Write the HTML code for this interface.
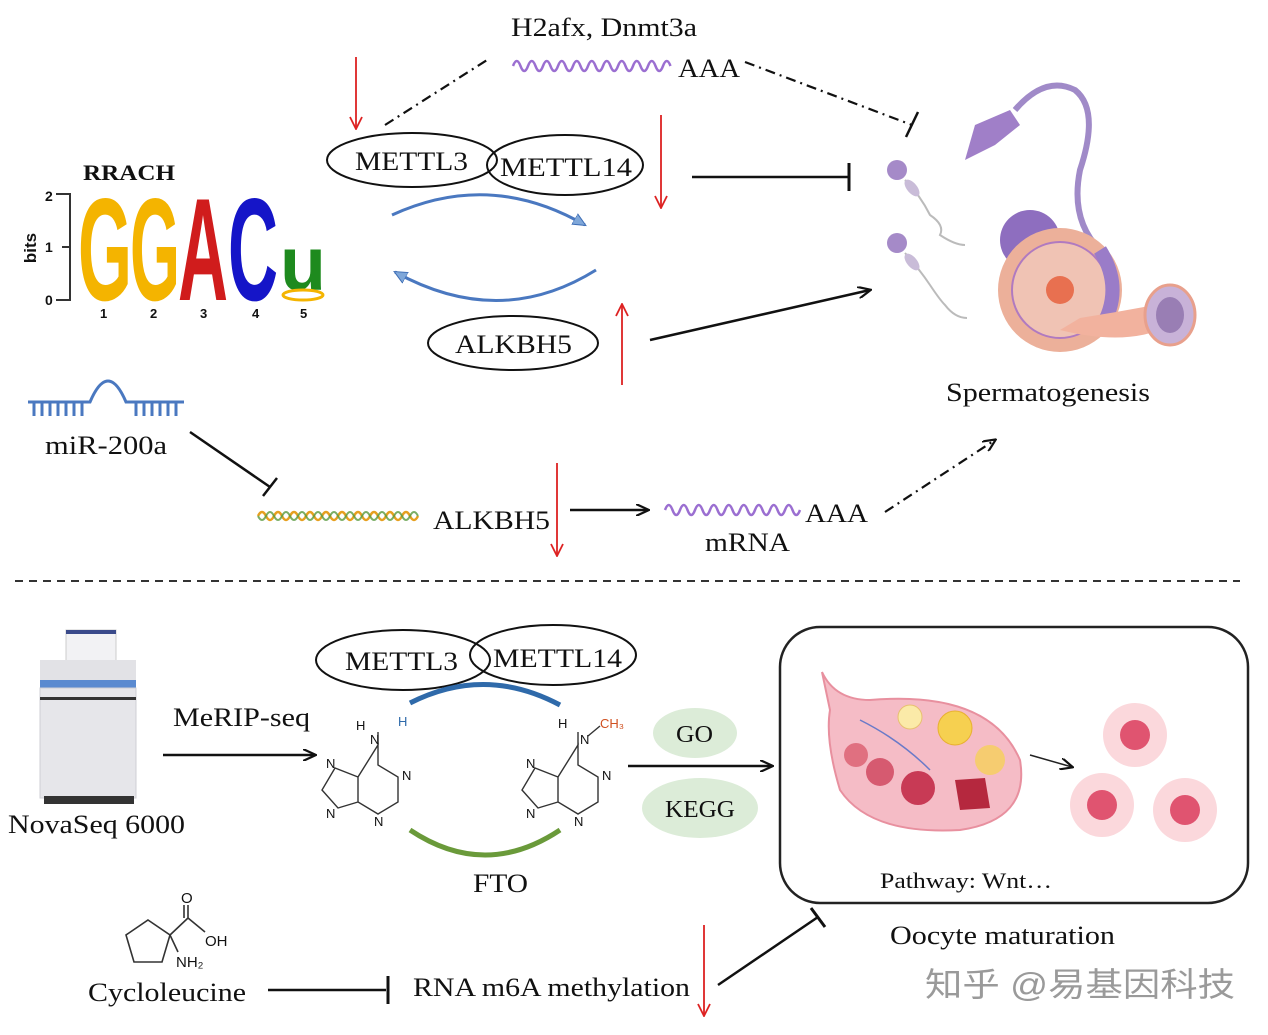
<!DOCTYPE html>
<html><head><meta charset="utf-8"><style>
html,body{margin:0;padding:0;background:#fff;}
svg{display:block;}
text{font-family:"Liberation Serif",serif;fill:#111;}
.s{font-family:"Liberation Sans",sans-serif;}
</style></head><body>
<svg width="1268" height="1035" viewBox="0 0 1268 1035" xmlns="http://www.w3.org/2000/svg">
<defs>
<marker id="ab" markerWidth="14" markerHeight="12" refX="12" refY="6" orient="auto" markerUnits="userSpaceOnUse"><path d="M0,0 L13,6 L0,12" fill="none" stroke="#111" stroke-width="2.2"/></marker>
<marker id="ar" markerWidth="14" markerHeight="14" refX="12" refY="7" orient="auto" markerUnits="userSpaceOnUse"><path d="M1,1 L13,7 L1,13" fill="none" stroke="#d22" stroke-width="1.8"/></marker>
<marker id="abl" markerWidth="16" markerHeight="14" refX="12" refY="7" orient="auto" markerUnits="userSpaceOnUse"><path d="M0,1 L13,7 L0,13 Z" fill="#7fa7d9" stroke="#3d6db5" stroke-width="1"/></marker>
</defs>

<!-- top -->
<text x="511" y="36" font-size="26" textLength="186" lengthAdjust="spacingAndGlyphs">H2afx, Dnmt3a</text>
<path d="M513 66 q3.75 -10 7.5 0 t7.5 0 t7.5 0 t7.5 0 t7.5 0 t7.5 0 t7.5 0 t7.5 0 t7.5 0 t7.5 0 t7.5 0 t7.5 0 t7.5 0 t7.5 0 t7.5 0 t7.5 0 t7.5 0 t7.5 0 t7.5 0 t7.5 0 t7.5 0" fill="none" stroke="#9b6fd1" stroke-width="2.5"/>
<text x="678" y="77" font-size="26" textLength="62" lengthAdjust="spacingAndGlyphs">AAA</text>
<line x1="385" y1="125" x2="487" y2="60" stroke="#111" stroke-width="2.2" stroke-dasharray="10,5,2,5"/>
<line x1="745" y1="62" x2="912" y2="125" stroke="#111" stroke-width="2.2" stroke-dasharray="10,5,2,5"/>
<line x1="906" y1="137" x2="918" y2="112" stroke="#111" stroke-width="2.5"/>
<line x1="356" y1="57" x2="356" y2="128" stroke="#d22" stroke-width="1.8" marker-end="url(#ar)"/>
<ellipse cx="412" cy="160" rx="85" ry="27" fill="none" stroke="#111" stroke-width="2"/>
<ellipse cx="565" cy="165" rx="78" ry="30" fill="none" stroke="#111" stroke-width="2"/>
<text x="355" y="170" font-size="26" textLength="113" lengthAdjust="spacingAndGlyphs">METTL3</text>
<text x="500" y="176" font-size="26" textLength="132" lengthAdjust="spacingAndGlyphs">METTL14</text>
<line x1="661" y1="115" x2="661" y2="207" stroke="#d22" stroke-width="1.8" marker-end="url(#ar)"/>
<line x1="692" y1="177" x2="848" y2="177" stroke="#111" stroke-width="2.5"/>
<line x1="849" y1="163" x2="849" y2="191" stroke="#111" stroke-width="3"/>
<path d="M392 215 Q490 170 585 225" fill="none" stroke="#4a78c0" stroke-width="3" marker-end="url(#abl)"/>
<path d="M596 270 Q500 330 395 272" fill="none" stroke="#4a78c0" stroke-width="3" marker-end="url(#abl)"/>
<ellipse cx="513" cy="343" rx="85" ry="27" fill="none" stroke="#111" stroke-width="2"/>
<text x="455" y="353" font-size="26" textLength="117" lengthAdjust="spacingAndGlyphs">ALKBH5</text>
<line x1="622" y1="385" x2="622" y2="305" stroke="#d22" stroke-width="1.8" marker-end="url(#ar)"/>
<line x1="650" y1="340" x2="870" y2="290" stroke="#111" stroke-width="2.5" marker-end="url(#ab)"/>

<!-- logo -->
<text x="83" y="180" font-size="22" font-weight="bold" textLength="92" lengthAdjust="spacingAndGlyphs">RRACH</text>
<text class="s" x="36" y="248" font-size="17" font-weight="bold" transform="rotate(-90 36 248)" text-anchor="middle">bits</text>
<text class="s" x="45" y="201" font-size="14" font-weight="bold">2</text>
<text class="s" x="45" y="252" font-size="14" font-weight="bold">1</text>
<text class="s" x="45" y="305" font-size="14" font-weight="bold">0</text>
<path d="M56 194 H70 V300 H56 M62 247 H70" fill="none" stroke="#333" stroke-width="2"/>
<text class="s" x="78" y="300" font-size="146" font-weight="bold" textLength="54" lengthAdjust="spacingAndGlyphs" style="fill:#f4b400">G</text>
<text class="s" x="130" y="300" font-size="146" font-weight="bold" textLength="50" lengthAdjust="spacingAndGlyphs" style="fill:#f4b400">G</text>
<text class="s" x="178" y="300" font-size="146" font-weight="bold" textLength="50" lengthAdjust="spacingAndGlyphs" style="fill:#d01c1c">A</text>
<text class="s" x="228" y="300" font-size="146" font-weight="bold" textLength="50" lengthAdjust="spacingAndGlyphs" style="fill:#1515c8">C</text>
<text class="s" x="280" y="290" font-size="76" font-weight="bold" textLength="46" lengthAdjust="spacingAndGlyphs" style="fill:#1e8a1e">u</text>
<ellipse cx="303" cy="295" rx="20" ry="5" fill="none" stroke="#f4b400" stroke-width="3"/>
<text class="s" x="100" y="318" font-size="13" font-weight="bold">1</text>
<text class="s" x="150" y="318" font-size="13" font-weight="bold">2</text>
<text class="s" x="200" y="318" font-size="13" font-weight="bold">3</text>
<text class="s" x="252" y="318" font-size="13" font-weight="bold">4</text>
<text class="s" x="300" y="318" font-size="13" font-weight="bold">5</text>

<!-- miR -->
<g stroke="#4a78c0" stroke-width="3" fill="none">
<path d="M28 402 H90 Q108 360 126 402 H184"/>
<path d="M34 402 v14 M42 402 v14 M50 402 v14 M58 402 v14 M66 402 v14 M74 402 v14 M82 402 v14 M136 402 v14 M144 402 v14 M152 402 v14 M160 402 v14 M168 402 v14 M176 402 v14"/>
</g>
<text x="45" y="454" font-size="26" textLength="122" lengthAdjust="spacingAndGlyphs">miR-200a</text>
<line x1="190" y1="432" x2="270" y2="487" stroke="#111" stroke-width="2.5"/>
<line x1="263" y1="496" x2="277" y2="478" stroke="#111" stroke-width="2.5"/>
<path d="M258 516 q4 -8 8 0 t8 0 t8 0 t8 0 t8 0 t8 0 t8 0 t8 0 t8 0 t8 0 t8 0 t8 0 t8 0 t8 0 t8 0 t8 0 t8 0 t8 0 t8 0 t8 0" fill="none" stroke="#e6a020" stroke-width="2.5"/>
<path d="M258 516 q4 8 8 0 t8 0 t8 0 t8 0 t8 0 t8 0 t8 0 t8 0 t8 0 t8 0 t8 0 t8 0 t8 0 t8 0 t8 0 t8 0 t8 0 t8 0 t8 0 t8 0" fill="none" stroke="#5a9a40" stroke-width="2" opacity="0.8"/>
<text x="433" y="529" font-size="26" textLength="117" lengthAdjust="spacingAndGlyphs">ALKBH5</text>
<line x1="557" y1="463" x2="557" y2="555" stroke="#d22" stroke-width="1.8" marker-end="url(#ar)"/>
<line x1="570" y1="510" x2="648" y2="510" stroke="#111" stroke-width="2.5" marker-end="url(#ab)"/>
<path d="M665 510 q3.75 -10 7.5 0 t7.5 0 t7.5 0 t7.5 0 t7.5 0 t7.5 0 t7.5 0 t7.5 0 t7.5 0 t7.5 0 t7.5 0 t7.5 0 t7.5 0 t7.5 0 t7.5 0 t7.5 0 t7.5 0 t7.5 0" fill="none" stroke="#9b6fd1" stroke-width="2.5"/>
<text x="805" y="522" font-size="26" textLength="63" lengthAdjust="spacingAndGlyphs">AAA</text>
<text x="705" y="551" font-size="26" textLength="85" lengthAdjust="spacingAndGlyphs">mRNA</text>
<line x1="885" y1="512" x2="995" y2="440" stroke="#111" stroke-width="2.2" stroke-dasharray="10,5,2,5" marker-end="url(#ab)"/>

<!-- sperm & testis -->
<g fill="none" stroke="#bbb" stroke-width="2">
<path d="M905 180 Q920 195 930 215 Q945 225 940 235 Q955 245 965 245"/>
<path d="M905 253 Q920 270 930 285 Q940 300 945 305 Q955 318 967 318"/>
</g>
<circle cx="897" cy="170" r="10" fill="#a58ac8"/><ellipse cx="912" cy="188" rx="5" ry="10" fill="#c9bcd8" transform="rotate(-40 912 188)"/>
<circle cx="897" cy="243" r="10" fill="#a58ac8"/><ellipse cx="912" cy="262" rx="5" ry="10" fill="#c9bcd8" transform="rotate(-40 912 262)"/>
<path d="M1100 250 Q1070 220 1080 170 Q1100 110 1075 90 Q1045 75 1015 110" fill="none" stroke="#a08ac8" stroke-width="6"/>
<path d="M965 160 L975 125 L1010 110 L1020 125 L995 145 Z" fill="#a07fc8"/>
<circle cx="1030" cy="240" r="30" fill="#8e6ebf"/>
<circle cx="1060" cy="290" r="62" fill="#ecb09a"/>
<circle cx="1060" cy="290" r="48" fill="#f0c3b4" stroke="#b07ac0" stroke-width="2"/>
<circle cx="1060" cy="290" r="14" fill="#e87050"/>
<path d="M1100 250 Q1125 290 1100 330" fill="none" stroke="#9a7cc8" stroke-width="14"/>
<path d="M1060 330 Q1120 345 1160 330 L1180 300 Q1130 310 1080 318 Z" fill="#f2b29e"/>
<ellipse cx="1170" cy="315" rx="25" ry="30" fill="#c8b2d8" stroke="#e8a08c" stroke-width="3"/>
<ellipse cx="1170" cy="315" rx="14" ry="18" fill="#7a5c9c" opacity="0.6"/>
<text x="946" y="401" font-size="26" textLength="204" lengthAdjust="spacingAndGlyphs">Spermatogenesis</text>

<line x1="15" y1="581" x2="1240" y2="581" stroke="#333" stroke-width="2" stroke-dasharray="8,6"/>

<!-- bottom -->
<rect x="66" y="630" width="50" height="40" fill="#f2f2f4" stroke="#ccc"/>
<rect x="66" y="630" width="50" height="4" fill="#3a4a8a"/>
<rect x="40" y="660" width="96" height="20" fill="#e2e2e6"/>
<rect x="40" y="680" width="96" height="8" fill="#5a8ad0"/>
<rect x="40" y="688" width="96" height="110" fill="#e6e6ea" stroke="#cfcfd4"/>
<rect x="40" y="697" width="96" height="3" fill="#333"/>
<rect x="44" y="796" width="90" height="8" fill="#333"/>
<text x="8" y="833" font-size="26" textLength="177" lengthAdjust="spacingAndGlyphs">NovaSeq 6000</text>
<text x="173" y="726" font-size="26" textLength="137" lengthAdjust="spacingAndGlyphs">MeRIP-seq</text>
<line x1="163" y1="755" x2="315" y2="755" stroke="#111" stroke-width="2.5" marker-end="url(#ab)"/>

<ellipse cx="403" cy="660" rx="87" ry="30" fill="none" stroke="#111" stroke-width="2"/>
<ellipse cx="553" cy="655" rx="83" ry="30" fill="none" stroke="#111" stroke-width="2"/>
<text x="345" y="670" font-size="26" textLength="113" lengthAdjust="spacingAndGlyphs">METTL3</text>
<text x="493" y="667" font-size="26" textLength="129" lengthAdjust="spacingAndGlyphs">METTL14</text>
<path d="M410 703 Q485 665 560 705" fill="none" stroke="#2f6aaa" stroke-width="5"/>
<path d="M410 830 Q485 880 560 830" fill="none" stroke="#6a9a3a" stroke-width="5"/>
<text x="473" y="892" font-size="26" textLength="55" lengthAdjust="spacingAndGlyphs">FTO</text>

<!-- adenine structures -->
<g fill="none" stroke="#333" stroke-width="1.4">
<path d="M378 745 V765 L398 777 V802 L378 814 L358 802 V777 Z M358 777 L335 768 L322 790 L338 808 L358 802"/>
<path d="M378 745 V732"/>
<path d="M578 745 V765 L598 777 V802 L578 814 L558 802 V777 Z M558 777 L535 768 L522 790 L538 808 L558 802"/>
<path d="M578 745 V732 M588 736 L600 726"/>
</g>
<text class="s" x="356" y="730" font-size="13">H</text><text class="s" x="370" y="744" font-size="13">N</text><text class="s" x="398" y="726" font-size="13" style="fill:#2f6aaa">H</text>
<text class="s" x="402" y="780" font-size="13">N</text><text class="s" x="374" y="826" font-size="13">N</text><text class="s" x="326" y="768" font-size="13">N</text><text class="s" x="326" y="818" font-size="13">N</text>
<text class="s" x="558" y="728" font-size="13">H</text><text class="s" x="580" y="744" font-size="13">N</text><text class="s" x="600" y="728" font-size="13" style="fill:#d05020">CH₃</text>
<text class="s" x="602" y="780" font-size="13">N</text><text class="s" x="574" y="826" font-size="13">N</text><text class="s" x="526" y="768" font-size="13">N</text><text class="s" x="526" y="818" font-size="13">N</text>

<ellipse cx="695" cy="733" rx="42" ry="25" fill="#dcecd8"/>
<text x="676" y="742" font-size="24" textLength="37" lengthAdjust="spacingAndGlyphs">GO</text>
<ellipse cx="700" cy="808" rx="58" ry="30" fill="#dcecd8"/>
<text x="665" y="817" font-size="24" textLength="70" lengthAdjust="spacingAndGlyphs">KEGG</text>
<line x1="628" y1="766" x2="772" y2="766" stroke="#111" stroke-width="2.5" marker-end="url(#ab)"/>

<rect x="780" y="627" width="468" height="276" rx="40" fill="none" stroke="#222" stroke-width="2.5"/>
<path d="M822 672 Q835 700 870 700 Q990 690 1020 760 Q1030 820 960 830 Q870 835 840 790 Q825 740 830 710 Z" fill="#f5bcc6" stroke="#e8909f" stroke-width="2"/>
<circle cx="856" cy="755" r="12" fill="#e07080"/>
<circle cx="880" cy="772" r="14" fill="#d65a70"/>
<circle cx="918" cy="788" r="17" fill="#c83a55"/>
<path d="M955 780 L985 778 L990 808 L960 810 Z" fill="#b5283e"/>
<circle cx="910" cy="717" r="12" fill="#fbeaa8" stroke="#e8c070"/>
<circle cx="955" cy="728" r="17" fill="#f6d050" stroke="#e8b030"/>
<circle cx="990" cy="760" r="15" fill="#f6cc70"/>
<path d="M860 720 Q900 740 930 770" fill="none" stroke="#6a7ac8" stroke-width="1.5"/>
<line x1="1030" y1="755" x2="1072" y2="767" stroke="#222" stroke-width="1.5" marker-end="url(#ab)"/>
<circle cx="1135" cy="735" r="32" fill="#fbd8dc"/><circle cx="1135" cy="735" r="15" fill="#e05470"/>
<circle cx="1102" cy="805" r="32" fill="#fbd8dc"/><circle cx="1102" cy="805" r="15" fill="#e05470"/>
<circle cx="1185" cy="810" r="32" fill="#fbd8dc"/><circle cx="1185" cy="810" r="15" fill="#e05470"/>
<text x="880" y="888" font-size="22" textLength="172" lengthAdjust="spacingAndGlyphs">Pathway: Wnt…</text>
<text x="890" y="944" font-size="26" textLength="225" lengthAdjust="spacingAndGlyphs">Oocyte maturation</text>

<!-- cycloleucine -->
<g fill="none" stroke="#333" stroke-width="1.6">
<path d="M148 920 L170 935 L162 962 L134 962 L126 935 Z"/>
<path d="M170 935 L188 918 V905 M184 905 V918 M188 918 L205 932 M170 935 L178 952"/>
</g>
<text class="s" x="181" y="903" font-size="15">O</text>
<text class="s" x="205" y="946" font-size="15">OH</text>
<text class="s" x="176" y="967" font-size="15">NH₂</text>
<text x="88" y="1001" font-size="26" textLength="158" lengthAdjust="spacingAndGlyphs">Cycloleucine</text>
<line x1="268" y1="990" x2="386" y2="990" stroke="#111" stroke-width="2.5"/>
<line x1="388" y1="976" x2="388" y2="1004" stroke="#111" stroke-width="3"/>
<text x="413" y="996" font-size="26" textLength="277" lengthAdjust="spacingAndGlyphs">RNA m6A methylation</text>
<line x1="704" y1="925" x2="704" y2="1015" stroke="#d22" stroke-width="1.8" marker-end="url(#ar)"/>
<line x1="718" y1="985" x2="818" y2="917" stroke="#111" stroke-width="2.5"/>
<line x1="811" y1="908" x2="825" y2="927" stroke="#111" stroke-width="3"/>

<text x="925" y="996" font-size="33" textLength="310" lengthAdjust="spacingAndGlyphs" style="fill:#9a9a9a;font-family:'Liberation Sans','Noto Sans CJK SC',sans-serif">知乎 @易基因科技</text>
</svg>
</body></html>
